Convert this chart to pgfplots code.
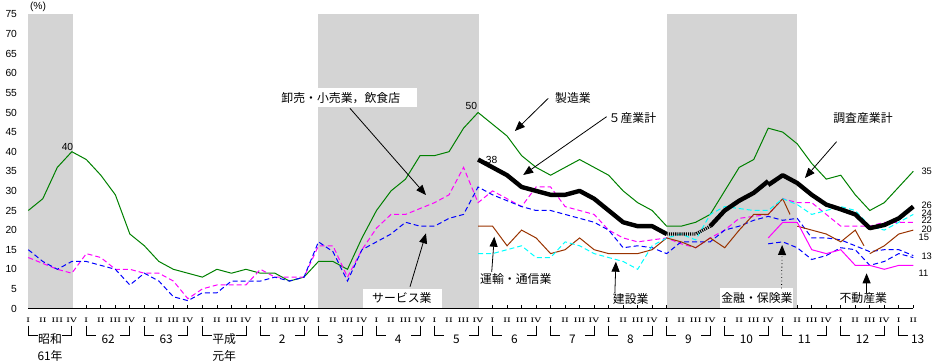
\documentclass[border=0pt]{standalone}
\usepackage{fontspec}
\usepackage{pgfplots}
\pgfplotsset{compat=1.18}
\usetikzlibrary{arrows.meta}
\newfontfamily\jp{Noto Sans CJK JP}
\newfontfamily\nm{Liberation Sans}
\definecolor{cgreen}{RGB}{0,128,0}
\definecolor{cblue}{RGB}{0,0,255}
\definecolor{cmag}{RGB}{255,0,255}
\definecolor{ccyan}{RGB}{0,255,255}
\definecolor{cbrown}{RGB}{153,51,0}
\definecolor{shadegray}{RGB}{212,212,212}
\newcommand{\jl}{\jp\fontsize{8.9}{10}\selectfont}
\newcommand{\nl}{\nm\fontsize{7.7}{8}\selectfont}
\newcommand{\rl}{\nm\fontsize{7}{7}\selectfont}
\begin{document}
\begin{tikzpicture}
\begin{axis}[
  at={(0,0)}, anchor=south west,
  scale only axis, width=663.75pt, height=220.5pt,
  xmin=0, xmax=61, ymin=0, ymax=75,
  axis lines*=left,
  axis line style={line width=0.9pt},
  tick align=inside,
  major tick length=2.4pt,
  tick style={line width=0.6pt, black},
  xtick={0,...,61}, xticklabels={},
  ytick={0,5,...,75},
  yticklabel style={font=\nl, xshift=-5pt},
  /pgf/number format/assume math mode=true,
  clip=false,
  dsh/.style={dash pattern=on 3.75pt off 2.25pt, line width=0.75pt},
]
\coordinate (LL) at (rel axis cs:0,0);
\coordinate (UR) at (rel axis cs:1,1);
% shaded periods
\fill[shadegray] (axis cs:0,0) rectangle (axis cs:3.1,75);
\fill[shadegray] (axis cs:20,0) rectangle (axis cs:31.05,75);
\fill[shadegray] (axis cs:44.05,0) rectangle (axis cs:53,75);
% white label boxes
\fill[white] (axis cs:17.14,51.33) rectangle (axis cs:26.77,56.17);
\fill[white] (axis cs:23.09,0.25) rectangle (axis cs:28.49,4.97);
\fill[white] (axis cs:47.67,0.25) rectangle (axis cs:52.68,5.15);

% manufacturing
\addplot[cgreen, line width=0.75pt] coordinates {(0,25)(1,28)(2,36)(3,40)(4,38)(5,34)(6,29)(7,19)(8,16)(9,12)(10,10)(11,9)(12,8)(13,10)(14,9)(15,10)(16,9)(17,9)(18,7)(19,8)(20,12)(21,12)(22,10)(23,18)(24,25)(25,30)(26,33)(27,39)(28,39)(29,40)(30,46)(31,50)(32,47)(33,44)(34,39)(35,36)(36,34)(37,36)(38,38)(39,36)(40,34)(41,30)(42,27)(43,25)(44,21)(45,21)(46,22)(47,24)(48,30)(49,36)(50,38)(51,46)(52,45)(53,42)(54,37)(55,33)(56,34)(57,29)(58,25)(59,27)(60,31)(61,35)};
% wholesale/retail
\addplot[cmag, dsh] coordinates {(0,13)(1,11.5)(2,10)(3,9)(4,14)(5,13)(6,10)(7,10)(8,9)(9,9)(10,7)(11,2.5)(12,5)(13,6)(14,6)(15,6)(16,10)(17,8)(18,8)(19,8)(20,16)(21,16)(22,8)(23,15)(24,20.5)(25,24)(26,24)(27,25.5)(28,27)(29,29)(30,36)(31,27)(32,30)(33,28)(34,26)(35,31)(36,31)(37,26)(38,25)(39,24)(40,20)(41,18)(42,17)(43,17.5)(44,18)(45,16.5)(46,15.5)(47,18)(48,20)(49,23)(50,23.5)(51,24)(52,28)(53,27)(54,27)(55,24)(56,21)(57,21)(58,21)(59,22)(60,22)(61,22)};
% services
\addplot[cblue, dsh] coordinates {(0,15)(1,12)(2,10)(3,12)(4,12)(5,11)(6,10)(7,6)(8,9)(9,7)(10,3)(11,2)(12,4)(13,4)(14,7)(15,7)(16,7)(17,8)(18,7)(19,8)(20,17)(21,14.5)(22,7)(23,15)(24,17)(25,19)(26,22)(27,21)(28,21)(29,23)(30,24)(31,31)(32,29)(33,27.5)(34,26)(35,25)(36,25)(37,24)(38,23)(39,22)(40,20)(41,15.5)(42,16)(43,15.5)(44,14)(45,17)(46,17)(47,17)(48,20)(49,21)(50,22.5)(51,23.5)(52,22.5)(53,23)(54,18)(55,18)(56,17.5)(57,16)(58,14.5)(59,15)(60,15)(61,13.5)};
% transport & communication
\addplot[cbrown, line width=0.75pt] coordinates {(31,21)(32,21)(33,16)(34,20)(35,18)(36,14)(37,15)(38,18)(39,15)(40,14)(41,14)(42,14)(43,15)(44,18)(45,17)(46,15.5)(47,18)(48,15.5)(49,20)(50,24)(51,24)(52,28)(52.5,24)};
\addplot[cbrown, line width=0.75pt] coordinates {(53,21)(54,20)(55,19)(56,17)(57,20)(57.6,16)};
\addplot[cbrown, line width=0.75pt] coordinates {(58,14)(59,16)(60,19)(61,20)};
% construction
\addplot[ccyan, dsh] coordinates {(31,14)(32,14)(33,15)(34,16)(35,13)(36,13)(37,17)(38,16)(39,14)(40,13)(41,12)(42,10)(43,16)(44,18)(45,19)(46,17.5)(47,24)(48,26)(49,25.5)(50,25)(51,25)(52,28)(53,26.5)(54,24)(55,25)(56,26)(57,25)(58,21)(59,20)(60,22)(61,24)};
% finance & insurance
\addplot[cblue, dsh] coordinates {(51,16.5)(52,17)(53,15.5)(54,12.5)(55,13.5)(56,15.5)(57,15)(58,11)(59,12)(60,14)(61,13)};
% real estate
\addplot[cmag, line width=0.75pt] coordinates {(51,18)(52,22)(53,22)(54,15)(55,14)(56,15)(57,11)(58,11)(59,10)(60,11)(61,11)};
% 5 industries total
\addplot[black, line width=3.3pt, line join=round] coordinates {(31,38)(32,36)(33,34)(34,31)(35,30)(36,29)(37,29)(38,30)(39,28)(40,25)(41,22)(42,21)(43,21)(44,19)};
\addplot[black, line width=2.4pt, dash pattern=on 0.8pt off 0.8pt] coordinates {(44,19)(45,19)(46,19)(47,21)};
\addplot[black, line width=3.3pt, line join=round] coordinates {(47,21)(48,25)(49,27.5)(50,29.5)(51,32.5)};
% survey industries total
\addplot[black, line width=3.3pt, line join=round] coordinates {(51,31.5)(52,34)(53,32)(54,29)(55,26.5)(56,25.3)(57,24)(58,20.5)(59,21.3)(60,23)(61,26)};

% arrows
\begin{scope}[line width=0.6pt, -{Triangle[length=7.5pt,width=6pt]}]
\draw (axis cs:22.17,51.07) -- (axis cs:27.41,28.95);
\draw (axis cs:26.31,5.56) -- (axis cs:27.41,19.18);
\draw (axis cs:35.84,53.62) -- (axis cs:33.54,45.28);
\draw (axis cs:39.86,48.93) -- (axis cs:34.11,34.06);
\draw (axis cs:55.71,42.55) -- (axis cs:53.53,33.29);
\draw (axis cs:31.94,9.31) -- (axis cs:32.12,18.32);
\draw (axis cs:40.43,3.95) -- (axis cs:40.5,11.94);
\draw[dotted] (axis cs:51.92,5.15) -- (axis cs:51.96,16.2);
\draw (axis cs:57.78,3.88) -- (axis cs:57.78,8.98);
\end{scope}

% labels
\node[font=\jl] at (axis cs:21.54,53.7) {卸売・小売業，飲食店};
\node[font=\jl] at (axis cs:25.75,2.6) {サービス業};
\node[font=\jl] at (axis cs:37.54,53.62) {製造業};
\node[font=\jl] at (axis cs:41.64,48.6) {５産業計};
\node[font=\jl] at (axis cs:57.53,48.6) {調査産業計};
\node[font=\jl] at (axis cs:33.6,7.45) {運輸・通信業};
\node[font=\jl] at (axis cs:41.52,2.42) {建設業};
\node[font=\jl] at (axis cs:50.22,2.6) {金融・保険業};
\node[font=\jl] at (axis cs:57.55,2.6) {不動産業};
\node[font=\nl] at (axis cs:0.67,76.9) {(\%)};
\node[font=\nl] at (axis cs:2.70,41.28) {40};
\node[font=\nl] at (axis cs:30.54,51.79) {50};
\node[font=\nl] at (axis cs:31.94,37.88) {38};
\begin{scope}[every node/.style={font=\rl, anchor=west, inner sep=0pt}]
\node at (axis cs:61.55,35.1) {35};
\node at (axis cs:61.55,26.4) {26};
\node at (axis cs:61.55,24.4) {24};
\node at (axis cs:61.55,22.4) {22};
\node at (axis cs:61.55,20.2) {20};
\node at (axis cs:61.35,18.1) {15};
\node at (axis cs:61.55,13.2) {13};
\node at (axis cs:61.35,9.0) {11};
\end{scope}

% quarter labels
\pgfplotsinvokeforeach{0,...,61}{
  \node[font=\fontsize{5}{5}\selectfont\bfseries] at (axis cs:#1,-3.0) {\pgfmathtruncatemacro\q{mod(#1,4)}\ifcase\q I\or II\or III\or IV\fi};
}
% year brackets
\pgfplotsinvokeforeach{0,...,14}{
  \draw[line width=0.6pt] (axis cs:{4*#1},-4.4) |- (axis cs:{4*#1+0.65},-6.9);
  \draw[line width=0.6pt] (axis cs:{4*#1+3},-4.4) |- (axis cs:{4*#1+2.35},-6.9);
}
\draw[line width=0.6pt] (axis cs:60,-4.4) |- (axis cs:60.65,-6.9);
% year labels
\node[font=\jl] at (axis cs:1.5,-7.91) {昭和};
\node[font=\jl] at (axis cs:1.5,-11.99) {61年};
\node[font=\jl] at (axis cs:13.5,-7.91) {平成};
\node[font=\jl] at (axis cs:13.5,-11.99) {元年};
\node[font=\jl] at (axis cs:5.5,-7.91) {62};
\node[font=\jl] at (axis cs:9.5,-7.91) {63};
\node[font=\jl] at (axis cs:17.5,-7.91) {2};
\node[font=\jl] at (axis cs:21.5,-7.91) {3};
\node[font=\jl] at (axis cs:25.5,-7.91) {4};
\node[font=\jl] at (axis cs:29.5,-7.91) {5};
\node[font=\jl] at (axis cs:33.5,-7.91) {6};
\node[font=\jl] at (axis cs:37.5,-7.91) {7};
\node[font=\jl] at (axis cs:41.5,-7.91) {8};
\node[font=\jl] at (axis cs:45.5,-7.91) {9};
\node[font=\jl] at (axis cs:49.5,-7.91) {10};
\node[font=\jl] at (axis cs:53.5,-7.91) {11};
\node[font=\jl] at (axis cs:57.5,-7.91) {12};
\node[font=\jl] at (axis cs:61.3,-7.91) {13};
\end{axis}
\pgfresetboundingbox
\path[use as bounding box] ([xshift=-21.225pt,yshift=-40.125pt]LL) rectangle ([xshift=19.275pt,yshift=10.875pt]UR);
\end{tikzpicture}
\end{document}
